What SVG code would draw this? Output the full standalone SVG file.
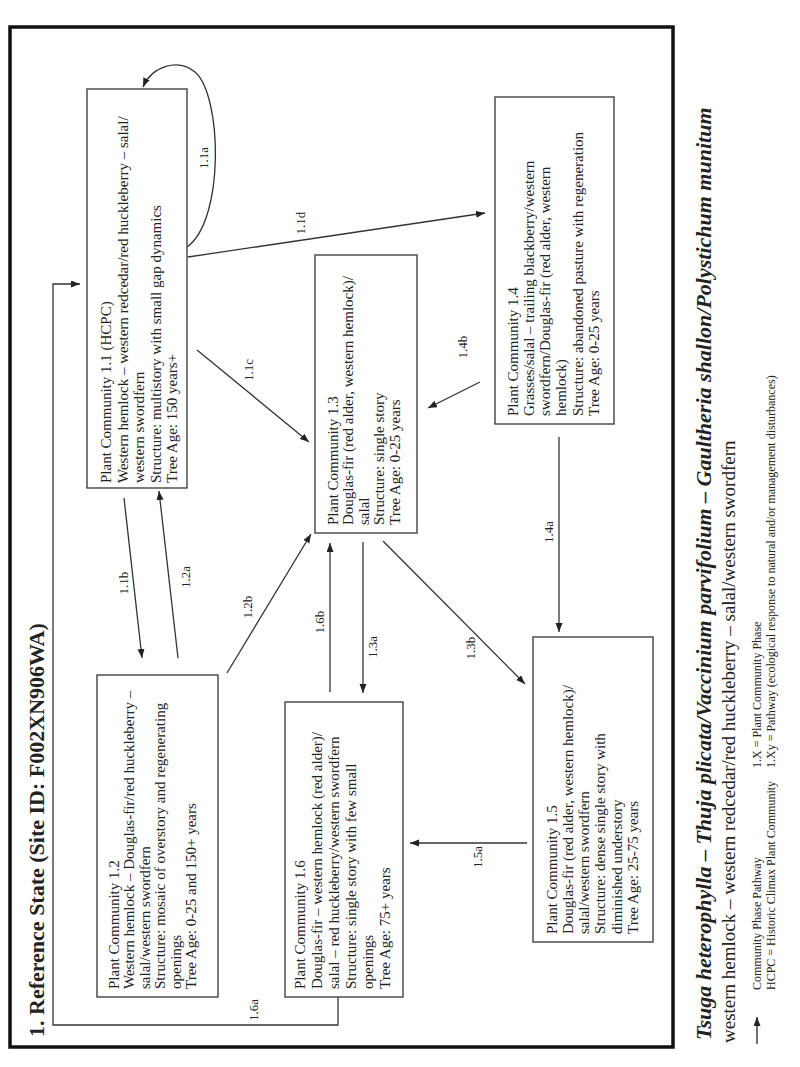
<svg xmlns="http://www.w3.org/2000/svg" width="800" height="1067" viewBox="0 0 800 1067">
<style>
.box{fill:#fff;stroke:#333;stroke-width:1.3}
.t{font-family:"Liberation Serif","Times New Roman",serif;font-size:15px;fill:#222}
.lbl{font-family:"Liberation Serif","Times New Roman",serif;font-size:13px;fill:#222;text-anchor:middle}
.conn{stroke:#333;stroke-width:1.3;fill:none;marker-end:url(#ah)}
.leg{font-family:"Liberation Serif","Times New Roman",serif;font-size:12px;fill:#222}
</style>
<defs>
<marker id="ah" markerUnits="userSpaceOnUse" markerWidth="10" markerHeight="8" refX="9" refY="3.5" orient="auto">
<path d="M0,0 L9,3.5 L0,7 z" fill="#222"/>
</marker>
</defs>
<rect width="800" height="1067" fill="#fff"/>
<rect x="10" y="27" width="663" height="1020" fill="none" stroke="#111" stroke-width="3.5"/>
<text transform="translate(44,1037) rotate(-90)" font-family="Liberation Serif, serif" font-weight="bold" font-size="22" fill="#222">1. Reference State (Site ID: F002XN906WA)</text>

<g id="connectors">
<path class="conn" d="M187,247 C225,220 222,95 195,72 C178,58 152,66 143,87"/>
<line class="conn" x1="188" y1="257" x2="485" y2="213"/>
<line class="conn" x1="197" y1="350" x2="309" y2="442"/>
<line class="conn" x1="480" y1="382" x2="428" y2="408"/>
<line class="conn" x1="559" y1="437" x2="559" y2="632"/>
<line class="conn" x1="383" y1="541" x2="525" y2="684"/>
<line class="conn" x1="363" y1="542" x2="363" y2="693"/>
<line class="conn" x1="330" y1="692" x2="330" y2="543"/>
<line class="conn" x1="227" y1="673" x2="311" y2="534"/>
<line class="conn" x1="124" y1="498" x2="142" y2="658"/>
<line class="conn" x1="178" y1="658" x2="159" y2="491"/>
<line class="conn" x1="527" y1="843" x2="410" y2="843"/>
<path class="conn" d="M338,997 L338,1025 L53,1025 L53,284 L80,284"/>
<text class="lbl" transform="translate(207.5,158) rotate(-90)">1.1a</text>
<text class="lbl" transform="translate(304.5,223) rotate(-90)">1.1d</text>
<text class="lbl" transform="translate(252.5,370) rotate(-90)">1.1c</text>
<text class="lbl" transform="translate(127.5,583) rotate(-90)">1.1b</text>
<text class="lbl" transform="translate(189.5,577) rotate(-90)">1.2a</text>
<text class="lbl" transform="translate(251.5,607) rotate(-90)">1.2b</text>
<text class="lbl" transform="translate(323.5,622) rotate(-90)">1.6b</text>
<text class="lbl" transform="translate(376.5,647) rotate(-90)">1.3a</text>
<text class="lbl" transform="translate(474.5,648) rotate(-90)">1.3b</text>
<text class="lbl" transform="translate(466.5,347) rotate(-90)">1.4b</text>
<text class="lbl" transform="translate(552.5,532) rotate(-90)">1.4a</text>
<text class="lbl" transform="translate(481.5,857) rotate(-90)">1.5a</text>
<text class="lbl" transform="translate(257.5,1010) rotate(-90)">1.6a</text>
</g>

<g id="pc11">
<rect class="box" x="87" y="89" width="100" height="399"/>
<text class="t" font-size="15.6" transform="translate(111,483) rotate(-90)"><tspan x="0" y="0">Plant Community 1.1 (HCPC)</tspan><tspan x="0" y="16.5">Western hemlock – western redcedar/red huckleberry – salal/</tspan><tspan x="0" y="33">western swordfern</tspan><tspan x="0" y="49.5">Structure: multistory with small gap dynamics</tspan><tspan x="0" y="66">Tree Age: 150 years+</tspan></text>
</g>
<g id="pc12">
<rect class="box" x="97" y="675" width="121" height="322"/>
<text class="t" transform="translate(118.5,989) rotate(-90)"><tspan x="0" y="0">Plant Community 1.2</tspan><tspan x="0" y="15.5">Western hemlock – Douglas-fir/red huckleberry –</tspan><tspan x="0" y="31">salal/western swordfern</tspan><tspan x="0" y="46.5">Structure: mosaic of overstory and regenerating</tspan><tspan x="0" y="62">openings</tspan><tspan x="0" y="77.5">Tree Age: 0-25 and 150+ years</tspan></text>
</g>
<g id="pc13">
<rect class="box" x="315" y="255" width="102" height="278"/>
<text class="t" transform="translate(337.5,525) rotate(-90)"><tspan x="0" y="0">Plant Community 1.3</tspan><tspan x="0" y="15.5">Douglas-fir (red alder, western hemlock)/</tspan><tspan x="0" y="31">salal</tspan><tspan x="0" y="46.5">Structure: single story</tspan><tspan x="0" y="62">Tree Age: 0-25 years</tspan></text>
</g>
<g id="pc14">
<rect class="box" x="495" y="97" width="119" height="327"/>
<text class="t" transform="translate(517.5,416) rotate(-90)"><tspan x="0" y="0">Plant Community 1.4</tspan><tspan x="0" y="16.3">Grasses/salal – trailing blackberry/western</tspan><tspan x="0" y="32.6">swordfern/Douglas-fir (red alder, western</tspan><tspan x="0" y="48.9">hemlock)</tspan><tspan x="0" y="65.2">Structure: abandoned pasture with regeneration</tspan><tspan x="0" y="81.5">Tree Age: 0-25 years</tspan></text>
</g>
<g id="pc15">
<rect class="box" x="533" y="637" width="120" height="305"/>
<text class="t" transform="translate(556.5,934) rotate(-90)"><tspan x="0" y="0">Plant Community 1.5</tspan><tspan x="0" y="16.3">Douglas-fir (red alder, western hemlock)/</tspan><tspan x="0" y="32.6">salal/western swordfern</tspan><tspan x="0" y="48.9">Structure: dense single story with</tspan><tspan x="0" y="65.2">diminished understory</tspan><tspan x="0" y="81.5">Tree Age: 25-75 years</tspan></text>
</g>
<g id="pc16">
<rect class="box" x="285" y="702" width="118" height="295"/>
<text class="t" transform="translate(304.5,989) rotate(-90)"><tspan x="0" y="0">Plant Community 1.6</tspan><tspan x="0" y="17">Douglas-fir – western hemlock (red alder)/</tspan><tspan x="0" y="34">salal – red huckleberry/western swordfern</tspan><tspan x="0" y="51">Structure: single story with few small</tspan><tspan x="0" y="68">openings</tspan><tspan x="0" y="85">Tree Age: 75+ years</tspan></text>
</g>

<g id="caption">
<text transform="translate(711,1040) rotate(-90)" font-family="Liberation Serif, serif" font-weight="bold" font-style="italic" font-size="22" fill="#222">Tsuga heterophylla – Thuja plicata/Vaccinium parvifolium – Gaultheria shallon/Polystichum munitum</text>
<text transform="translate(735,1043) rotate(-90)" font-family="Liberation Serif, serif" font-size="19" fill="#222">western hemlock – western redcedar/red huckleberry – salal/western swordfern</text>
</g>
<g id="legend">
<line x1="757" y1="1044" x2="757" y2="1017" stroke="#222" stroke-width="1.3" marker-end="url(#ah)"/>
<text class="leg" transform="translate(761,990) rotate(-90)">Community Phase Pathway</text>
<text class="leg" transform="translate(775,990) rotate(-90)">HCPC = Historic Climax Plant Community</text>
<text class="leg" transform="translate(761,768) rotate(-90)">1.X = Plant Community Phase</text>
<text class="leg" transform="translate(775,768) rotate(-90)">1.Xy = Pathway (ecological response to natural and/or management disturbances)</text>
</g>
</svg>
